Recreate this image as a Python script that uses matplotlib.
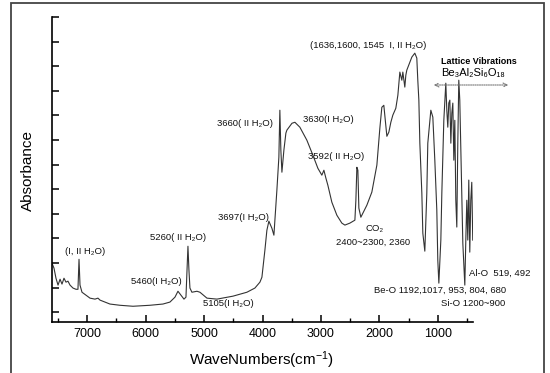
import matplotlib
matplotlib.use("Agg")
import matplotlib.pyplot as plt
from matplotlib.patches import Rectangle, FancyArrowPatch
from matplotlib.ticker import MultipleLocator

plt.rcParams['font.family'] = ['Liberation Sans', 'DejaVu Sans']
plt.rcParams['mathtext.fontset'] = 'custom'
plt.rcParams['mathtext.rm'] = 'Liberation Sans'
plt.rcParams['mathtext.it'] = 'Liberation Sans'

wavenumber = [7600, 7566, 7532, 7497, 7462, 7429, 7395, 7361, 7327, 7292, 7241, 7190, 7156, 7138,
              7121, 7087, 7019, 6950, 6865, 6814, 6779, 6609, 6438, 6215, 5925, 5703, 5583, 5497,
              5446, 5395, 5343, 5309, 5275, 5258, 5241, 5207, 5121, 5070, 4950, 4779, 4506, 4267,
              4130, 4044, 4010, 3959, 3925, 3891, 3839, 3805, 3754, 3720, 3703, 3686, 3668, 3634,
              3600, 3583, 3496, 3446, 3361, 3241, 3138, 3053, 2985, 2950, 2916, 2882, 2814, 2728,
              2643, 2591, 2506, 2420, 2403, 2386, 2369, 2352, 2318, 2284, 2215, 2130, 2044, 1993,
              1959, 1925, 1891, 1873, 1839, 1805, 1771, 1720, 1685, 1651, 1617, 1600, 1566, 1549,
              1532, 1480, 1446, 1395, 1361, 1344, 1326, 1309, 1275, 1258, 1224, 1190, 1173, 1121,
              1087, 1053, 1019, 1002, 984, 950, 933, 899, 865, 848, 831, 814, 796, 779, 762, 745,
              728, 711, 694, 677, 660, 643, 626, 591, 574, 540, 523, 506, 489, 472, 455, 438, 421, 404]
absorbance = [0.199, 0.179, 0.138, 0.110, 0.134, 0.114, 0.138, 0.122, 0.126, 0.110, 0.098, 0.093, 0.093, 0.215,
              0.110, 0.081, 0.069, 0.057, 0.053, 0.057, 0.049, 0.033, 0.028, 0.024, 0.028, 0.033, 0.041, 0.061,
              0.085, 0.069, 0.053, 0.061, 0.268, 0.171, 0.098, 0.081, 0.085, 0.081, 0.057, 0.053, 0.065, 0.081,
              0.098, 0.122, 0.142, 0.252, 0.333, 0.370, 0.341, 0.313, 0.496, 0.630, 0.821, 0.659, 0.569, 0.659,
              0.728, 0.740, 0.768, 0.772, 0.752, 0.699, 0.638, 0.585, 0.557, 0.577, 0.545, 0.516, 0.447, 0.394,
              0.362, 0.354, 0.362, 0.374, 0.455, 0.589, 0.577, 0.423, 0.386, 0.402, 0.435, 0.488, 0.598, 0.748,
              0.833, 0.841, 0.760, 0.715, 0.732, 0.772, 0.801, 0.829, 0.882, 0.976, 0.943, 0.976, 0.915, 0.963,
              0.984, 1.016, 1.037, 1.053, 1.033, 0.943, 0.862, 0.687, 0.484, 0.321, 0.248, 0.484, 0.687, 0.821,
              0.793, 0.618, 0.415, 0.211, 0.118, 0.293, 0.484, 0.780, 0.931, 0.821, 0.752, 0.850, 0.862, 0.687,
              0.809, 0.850, 0.618, 0.780, 0.455, 0.346, 0.687, 0.943, 0.862, 0.484, 0.280, 0.110, 0.293, 0.455,
              0.293, 0.537, 0.244, 0.455, 0.528, 0.293]

xticks = [7000, 6000, 5000, 4000, 3000, 2000, 1000]
xtick_labels = ["7000", "6000", "5000", "4000", "3000", "2000", "1000"]

annotations = [
    ("(I, II H\u2082O)", 65, 252),
    ("5260( II H\u2082O)", 150, 238),
    ("5460(I H\u2082O)", 131, 281),
    ("5105(I H\u2082O)", 203, 304),
    ("3697(I H\u2082O)", 218, 218),
    ("3660( II H\u2082O)", 217, 124),
    ("3630(I H\u2082O)", 303, 119),
    ("3592( II H\u2082O)", 308, 156),
    ("(1636,1600, 1545  I, II H\u2082O)", 310, 45),
    ("CO\u2082", 365, 229),
    ("2400~2300, 2360", 336, 242),
    ("Al-O  519, 492", 469, 273),
    ("Be-O 1192,1017, 953, 804, 680", 374, 290),
    ("Si-O 1200~900", 441, 304),
]

W, H = 550, 373
fig = plt.figure(figsize=(5.5, 3.73), dpi=100)
fig.patch.set_facecolor('white')

# outer frame
fig.patches.append(Rectangle((11 / W, -0.05), (544 - 11) / W, 1.05 - 3 / H,
                             transform=fig.transFigure, fill=False,
                             edgecolor='#444444', linewidth=1.3))

ax = fig.add_axes([52 / W, 1 - 322 / H, (473 - 52) / W, (322 - 17) / H])
ax.plot(wavenumber, absorbance, color='#333333', linewidth=0.8)
ax.set_xlim(7600, 400)
ax.set_ylim(-0.04, 1.2)

for s in ['top', 'right']:
    ax.spines[s].set_visible(False)
for s in ['left', 'bottom']:
    ax.spines[s].set_color('black')
    ax.spines[s].set_linewidth(1.2)

ax.set_xticks(xticks)
ax.set_xticklabels(xtick_labels, fontsize=9)
ax.xaxis.set_minor_locator(MultipleLocator(500))
ax.yaxis.set_major_locator(MultipleLocator(0.1))
ax.set_yticklabels([])
ax.tick_params(axis='x', which='major', direction='in', length=5, width=1.1, pad=4)
ax.tick_params(axis='x', which='minor', direction='in', length=3, width=1.0)
ax.tick_params(axis='y', which='major', direction='in', length=5, width=1.1)

fig.text(28 / W, 1 - 170 / H, "Absorbance", rotation=90, fontsize=11,
         ha='center', va='center')
fig.text(262 / W, 1 - 360 / H, r"WaveNumbers(cm$^{-1}$)", fontsize=11,
         ha='center', va='center')

for txt, x, y in annotations:
    fig.text(x / W, 1 - y / H, txt, fontsize=6.8, ha='left', va='center',
             color='#111111')

fig.text(441 / W, 1 - 61 / H, "Lattice Vibrations", fontsize=6.5, fontweight='bold',
         ha='left', va='center')
fig.text(441 / W, 1 - 73 / H, "Be\u2083Al\u2082Si\u2086O\u2081\u2088", fontsize=8,
         ha='left', va='center')

arrow = FancyArrowPatch((431 / W, 1 - 85 / H), (511 / W, 1 - 85 / H),
                        transform=fig.transFigure, arrowstyle='<->', mutation_scale=7,
                        linestyle=(0, (1, 1)), color='#777777', linewidth=0.8)
fig.patches.append(arrow)

fig.savefig("out.png", dpi=100, facecolor='white')
